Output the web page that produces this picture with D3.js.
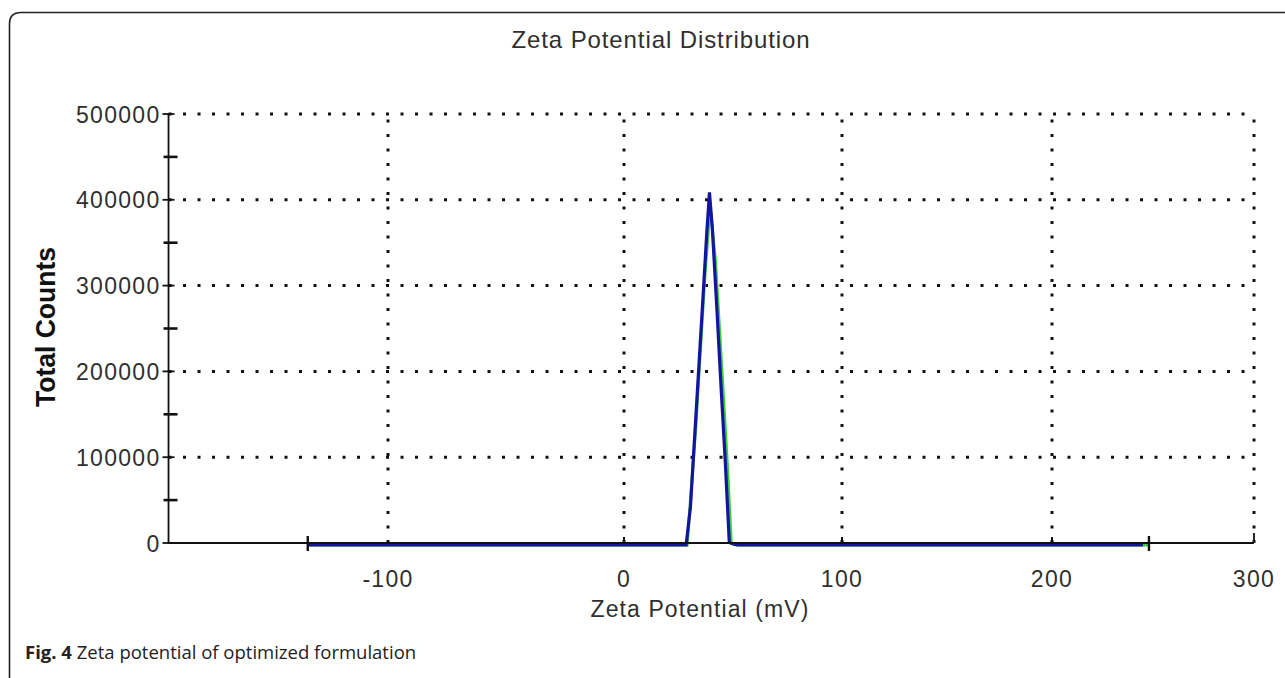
<!DOCTYPE html>
<html lang="en">
<head>
<meta charset="UTF-8">
<title>Zeta Potential Distribution</title>
<script src="https://d3js.org/d3.v7.min.js"></script>
<style>
  body { margin: 0; background: #fff; overflow: hidden; }
  .lbl { font-family: "Liberation Sans", Arial, sans-serif; fill: #2f2f2f; }
  .grid line { stroke: #111; stroke-width: 3; stroke-dasharray: 3 11.5; }
</style>
</head>
<body>
<script>
  // tick values
  const xTicks = [-100, 0, 100, 200, 300];
  const yTicks = [0, 100000, 200000, 300000, 400000, 500000];
  const yMinor = [50000, 150000, 250000, 350000, 450000];

  // measured distribution (mV, total counts)
  const blueZeta   = [-134, 28.5, 30.5, 32.5, 34.5, 36.5, 38.0, 39.2, 40.5, 42.5, 44.5, 46.5, 48.3, 50.5, 52, 245];
  const blueCounts = [0, 0, 45000, 130000, 215000, 300000, 365000, 411000, 370000, 280000, 185000, 95000, 3000, 1000, 0, 0];
  const greenZeta   = [-134, 29, 33, 37, 39.5, 42, 45, 47.5, 49.2, 52, 248];
  const greenCounts = [0, 0, 140000, 310000, 395000, 330000, 200000, 90000, 2000, 0, 0];

  const W = 1285, H = 678;
  const svg = d3.select("body").append("svg").attr("width", W).attr("height", H);

  // frame around the figure
  svg.append("path")
    .attr("d", "M9.5,678 L9.5,24 Q9.5,12.5 21,12.5 L1285,12.5")
    .attr("fill", "none").attr("stroke", "#222").attr("stroke-width", 1.6);

  // the original x axis is not evenly spaced, so a piecewise scale
  const x = d3.scaleLinear().domain(xTicks).range([388, 624, 842, 1052, 1254]);
  const y = d3.scaleLinear().domain([0, 500000]).range([543, 114]);
  const xStart = -193;

  // grid
  const grid = svg.append("g").attr("class", "grid");
  grid.selectAll(".v").data(xTicks).enter().append("line")
    .attr("x1", d => x(d)).attr("x2", d => x(d))
    .attr("y1", y(0)).attr("y2", y(500000));
  grid.selectAll(".h").data(yTicks.slice(1)).enter().append("line")
    .attr("x1", x(xStart)).attr("x2", x(300))
    .attr("y1", d => y(d)).attr("y2", d => y(d));

  // y axis
  svg.append("line").attr("x1", x(xStart)).attr("x2", x(xStart))
    .attr("y1", y(0)).attr("y2", y(500000)).attr("stroke", "#111").attr("stroke-width", 1.8);
  svg.selectAll(".yt").data(yTicks).enter().append("line")
    .attr("x1", x(xStart) - 6).attr("x2", x(xStart) + 6)
    .attr("y1", d => y(d)).attr("y2", d => y(d)).attr("stroke", "#111").attr("stroke-width", 1.8);
  svg.selectAll(".ym").data(yMinor).enter().append("line")
    .attr("x1", x(xStart) - 5).attr("x2", x(xStart) + 9)
    .attr("y1", d => y(d)).attr("y2", d => y(d)).attr("stroke", "#111").attr("stroke-width", 2.6);
  svg.selectAll(".yl").data(yTicks).enter().append("text")
    .attr("class", "lbl")
    .attr("x", x(xStart) - 8).attr("y", d => y(d) + 8.5)
    .attr("text-anchor", "end")
    .style("font-size", "23px").style("letter-spacing", "1.3px")
    .text(d => d);

  // x axis labels
  svg.selectAll(".xl").data(xTicks).enter().append("text")
    .attr("class", "lbl")
    .attr("x", d => x(d)).attr("y", 587)
    .attr("text-anchor", "middle")
    .style("font-size", "23px").style("letter-spacing", "1.3px")
    .text(d => d);
  svg.selectAll(".xt").data(xTicks.slice(1, 4)).enter().append("line")
    .attr("x1", d => x(d)).attr("x2", d => x(d))
    .attr("y1", y(0)).attr("y2", y(0) - 6).attr("stroke", "#111").attr("stroke-width", 2);

  // series
  const line = d3.line().x(d => x(d[0])).y(d => y(d[1]) + 2);
  svg.append("path").datum(d3.zip(greenZeta, greenCounts))
    .attr("d", line).attr("fill", "none").attr("stroke", "#3ccf3c").attr("stroke-width", 3);
  svg.append("path").datum(d3.zip(blueZeta, blueCounts))
    .attr("d", line).attr("fill", "none").attr("stroke", "#1414a0").attr("stroke-width", 3.2);

  // x axis line on top of data
  svg.append("line").attr("x1", x(xStart)).attr("x2", x(300))
    .attr("y1", y(0)).attr("y2", y(0)).attr("stroke", "#111").attr("stroke-width", 1.8);
  svg.append("line").attr("x1", x(300)).attr("x2", x(300))
    .attr("y1", y(0)).attr("y2", y(0) - 10).attr("stroke", "#111").attr("stroke-width", 1.8);
  // data range markers
  svg.selectAll(".end").data([blueZeta[0], greenZeta[greenZeta.length - 1]]).enter().append("line")
    .attr("x1", d => x(d)).attr("x2", d => x(d))
    .attr("y1", y(0) - 7).attr("y2", y(0) + 8).attr("stroke", "#111").attr("stroke-width", 2.4);

  // titles
  svg.append("text").attr("class", "lbl")
    .attr("x", 661).attr("y", 48).attr("text-anchor", "middle")
    .style("font-size", "24px").style("letter-spacing", "0.9px")
    .text("Zeta Potential Distribution");
  svg.append("text").attr("class", "lbl")
    .attr("x", 700).attr("y", 617).attr("text-anchor", "middle")
    .style("font-size", "23px").style("letter-spacing", "1.1px")
    .text("Zeta Potential (mV)");
  svg.append("text")
    .attr("transform", "translate(55,327) rotate(-90)")
    .attr("text-anchor", "middle")
    .attr("textLength", 160).attr("lengthAdjust", "spacingAndGlyphs")
    .style("font-family", "'Liberation Sans', Arial, sans-serif")
    .style("font-weight", "bold").style("font-size", "28px").style("fill", "#111")
    .text("Total Counts");

  // caption
  const cap = svg.append("text").attr("x", 25).attr("y", 659)
    .style("font-family", "'Open Sans', sans-serif").style("font-size", "18.5px").style("fill", "#222");
  cap.append("tspan").style("font-weight", "bold").text("Fig. 4");
  cap.append("tspan").text(" Zeta potential of optimized formulation");
</script>
</body>
</html>
